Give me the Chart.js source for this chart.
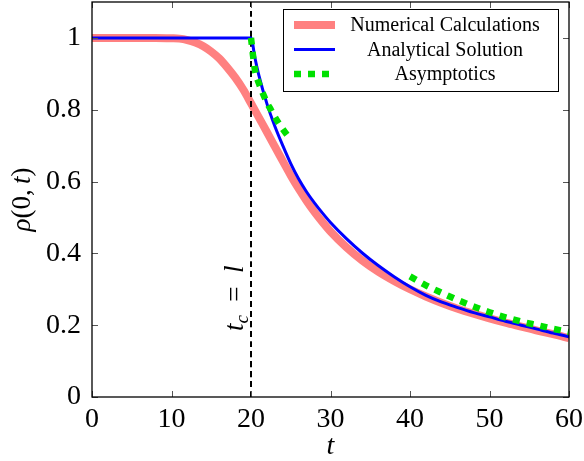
<!DOCTYPE html>
<html lang="en">
<head>
    <meta charset="UTF-8">
    <title>rho(0,t)</title>
    <script src="https://cdn.jsdelivr.net/npm/chart.js"></script>
    <style>
        html, body { margin: 0; padding: 0; background: #fff; }
        #wrap { width: 584px; height: 461px; }
    </style>
</head>
<body>
    <div id="wrap"><canvas id="rhoChart"></canvas></div>

    <script>
        const SERIF = '"Liberation Serif", "DejaVu Serif", serif';

        // critical time t_c = l
        const tc = 20;

        // numerical calculations
        const tNum   = [0, 4, 8, 10, 11, 12, 13, 14, 15, 16, 17, 18, 19, 20, 21, 22, 23, 24, 25, 26, 27, 28, 29, 30,
                        32, 34, 36, 38, 40, 42, 44, 46, 48, 50, 52, 54, 56, 58, 60];
        const rhoNum = [1, 1, 1, 0.999, 0.998, 0.994, 0.987, 0.977, 0.962, 0.943, 0.918, 0.89, 0.857, 0.818,
                        0.778, 0.738, 0.697, 0.657, 0.617, 0.58, 0.546, 0.515, 0.487, 0.461,
                        0.417, 0.38, 0.349, 0.323, 0.3, 0.28, 0.262, 0.246, 0.232, 0.219, 0.207, 0.196, 0.185, 0.175, 0.164];

        // analytical solution
        const tAna   = [0, 20, 20.5, 21, 22, 23, 24, 25, 26, 27, 28, 29, 30, 32, 34, 36, 38, 40,
                        42, 44, 46, 48, 50, 52, 54, 56, 58, 60];
        const rhoAna = [1, 1, 0.944, 0.895, 0.817, 0.754, 0.7, 0.65, 0.607, 0.571, 0.54, 0.512, 0.486, 0.441, 0.401,
                        0.366, 0.335, 0.307, 0.283, 0.264, 0.249, 0.235, 0.223, 0.211, 0.2, 0.189, 0.178, 0.168];

        // asymptotics, short and long time
        const tAsym1   = [20, 20.5, 21, 21.5, 22, 22.5, 23, 23.5, 24, 24.5, 25];
        const rhoAsym1 = [1, 0.91, 0.873, 0.845, 0.82, 0.8, 0.78, 0.762, 0.746, 0.731, 0.718];
        const tAsym2   = [40, 42, 44, 46, 48, 50, 52, 54, 56, 58, 60];
        const rhoAsym2 = [0.336, 0.311, 0.29, 0.27, 0.252, 0.236, 0.222, 0.21, 0.2, 0.19, 0.181];

        const xTicks = [0, 10, 20, 30, 40, 50, 60];
        const yTicks = [0, 0.2, 0.4, 0.6, 0.8, 1];

        const pts = (xs, ys) => xs.map((x, i) => ({ x: x, y: ys[i] }));

        // frame + inner ticks on all four sides (pgfplots look)
        const framePlugin = {
            id: 'frame',
            afterDatasetsDraw(chart) {
                const { ctx, chartArea: a, scales } = chart;
                ctx.save();
                ctx.strokeStyle = '#555';
                ctx.lineWidth = 1;
                const len = 6;
                ctx.beginPath();
                xTicks.forEach(v => {
                    const px = Math.round(scales.x.getPixelForValue(v)) + 0.5;
                    ctx.moveTo(px, a.bottom); ctx.lineTo(px, a.bottom - len);
                    ctx.moveTo(px, a.top); ctx.lineTo(px, a.top + len);
                });
                yTicks.forEach(v => {
                    const py = Math.round(scales.y.getPixelForValue(v)) + 0.5;
                    ctx.moveTo(a.left, py); ctx.lineTo(a.left + len, py);
                    ctx.moveTo(a.right, py); ctx.lineTo(a.right - len, py);
                });
                ctx.stroke();
                ctx.strokeStyle = '#000';
                ctx.lineWidth = 1.3;
                ctx.strokeRect(a.left, a.top, a.right - a.left, a.bottom - a.top);
                ctx.restore();
            }
        };

        // writes a run of [text, italic, size, dy] pieces, left to right
        function drawRuns(ctx, runs, size, x, y) {
            let cx = x;
            runs.forEach(([txt, it, sz, dy]) => {
                ctx.font = (it ? 'italic ' : '') + (sz || size) + 'px ' + SERIF;
                ctx.fillText(txt, cx, y + (dy || 0));
                cx += ctx.measureText(txt).width;
            });
        }
        function runsWidth(ctx, runs, size) {
            let w = 0;
            runs.forEach(([txt, it, sz]) => {
                ctx.font = (it ? 'italic ' : '') + (sz || size) + 'px ' + SERIF;
                w += ctx.measureText(txt).width;
            });
            return w;
        }

        const labelsPlugin = {
            id: 'labels',
            afterDraw(chart) {
                const { ctx, chartArea: a, scales } = chart;
                ctx.save();
                ctx.fillStyle = '#000';
                ctx.textBaseline = 'alphabetic';

                // y axis title rho(0,t)
                const yRuns = [['ρ', true], ['(0,\u2009', false], ['t', true], [')', false]];
                ctx.save();
                ctx.translate(30, (a.top + a.bottom) / 2);
                ctx.rotate(-Math.PI / 2);
                drawRuns(ctx, yRuns, 27, -runsWidth(ctx, yRuns, 27) / 2, 0);
                ctx.restore();

                // t_c = l next to the dashed line
                const tRuns = [['t', true], ['c', true, 19, 5], ['\u2002=\u2002', false], ['l', true]];
                ctx.save();
                ctx.translate(scales.x.getPixelForValue(tc) - 8, scales.y.getPixelForValue(0.275));
                ctx.rotate(-Math.PI / 2);
                drawRuns(ctx, tRuns, 27, -runsWidth(ctx, tRuns, 27) / 2, 0);
                ctx.restore();

                // legend box
                const sets = chart.data.datasets.filter(d => d.label);
                const bx = a.right - 286, by = a.top + 7, bw = 275, bh = 82;
                ctx.fillStyle = '#fff';
                ctx.fillRect(bx, by, bw, bh);
                ctx.strokeStyle = '#000';
                ctx.lineWidth = 1;
                ctx.strokeRect(bx + 0.5, by + 0.5, bw, bh);
                ctx.font = '20px ' + SERIF;
                ctx.textAlign = 'center';
                ctx.textBaseline = 'middle';
                sets.forEach((d, i) => {
                    const ry = by + 16 + i * 24.5;
                    ctx.save();
                    ctx.strokeStyle = d.borderColor;
                    ctx.lineWidth = d.borderWidth;
                    ctx.lineCap = 'butt';
                    ctx.setLineDash(d.borderDash || []);
                    ctx.beginPath();
                    ctx.moveTo(bx + 11, ry);
                    ctx.lineTo(bx + 52, ry);
                    ctx.stroke();
                    ctx.restore();
                    ctx.fillStyle = '#000';
                    ctx.fillText(d.label, bx + 162, ry + 1);
                });
                ctx.restore();
            }
        };

        const ctx = document.getElementById('rhoChart').getContext('2d');
        new Chart(ctx, {
            type: 'line',
            data: {
                datasets: [
                    { label: 'Numerical Calculations', data: pts(tNum, rhoNum),
                      borderColor: '#ff8080', borderWidth: 8, order: 3 },
                    { label: 'Analytical Solution', data: pts(tAna, rhoAna),
                      borderColor: '#0000ff', borderWidth: 3, order: 1 },
                    { label: 'Asymptotics', data: pts(tAsym1, rhoAsym1),
                      borderColor: '#00e000', borderWidth: 6.5, borderDash: [7, 7], order: 0 },
                    { data: pts(tAsym2, rhoAsym2),
                      borderColor: '#00e000', borderWidth: 6.5, borderDash: [7, 7], order: 0 },
                    { data: [{ x: tc, y: 0 }, { x: tc, y: 1.1 }],
                      borderColor: '#000', borderWidth: 2, borderDash: [6, 4], order: 2 }
                ]
            },
            options: {
                responsive: true,
                maintainAspectRatio: false,
                animation: false,
                elements: {
                    point: { radius: 0 },
                    line: { tension: 0.4, cubicInterpolationMode: 'monotone', fill: false, borderCapStyle: 'butt' }
                },
                layout: { padding: { top: 2, right: 15, left: 0, bottom: 0 } },
                plugins: {
                    legend: { display: false },
                    tooltip: { enabled: false }
                },
                scales: {
                    x: {
                        type: 'linear', min: 0, max: 60,
                        afterFit: s => { s.height = 64; s.paddingLeft = 0; s.paddingRight = 0; },
                        afterBuildTicks: s => { s.ticks = xTicks.map(v => ({ value: v })); },
                        grid: { display: false, drawTicks: false },
                        border: { display: false },
                        ticks: { color: '#000', padding: 6, maxRotation: 0, font: { family: SERIF, size: 28 } },
                        title: { display: true, text: 't', color: '#000', padding: 0,
                                 font: { family: SERIF, size: 28, style: 'italic', lineHeight: 1 } }
                    },
                    y: {
                        type: 'linear', min: 0, max: 1.1,
                        afterFit: s => { s.width = 92; s.paddingTop = 0; s.paddingBottom = 0; },
                        afterBuildTicks: s => { s.ticks = yTicks.map(v => ({ value: v })); },
                        grid: { display: false, drawTicks: false },
                        border: { display: false },
                        ticks: { color: '#000', padding: 11, font: { family: SERIF, size: 28 },
                                 callback: v => String(+v.toFixed(1)) },
                        title: { display: false }
                    }
                }
            },
            plugins: [framePlugin, labelsPlugin]
        });
    </script>
</body>
</html>
